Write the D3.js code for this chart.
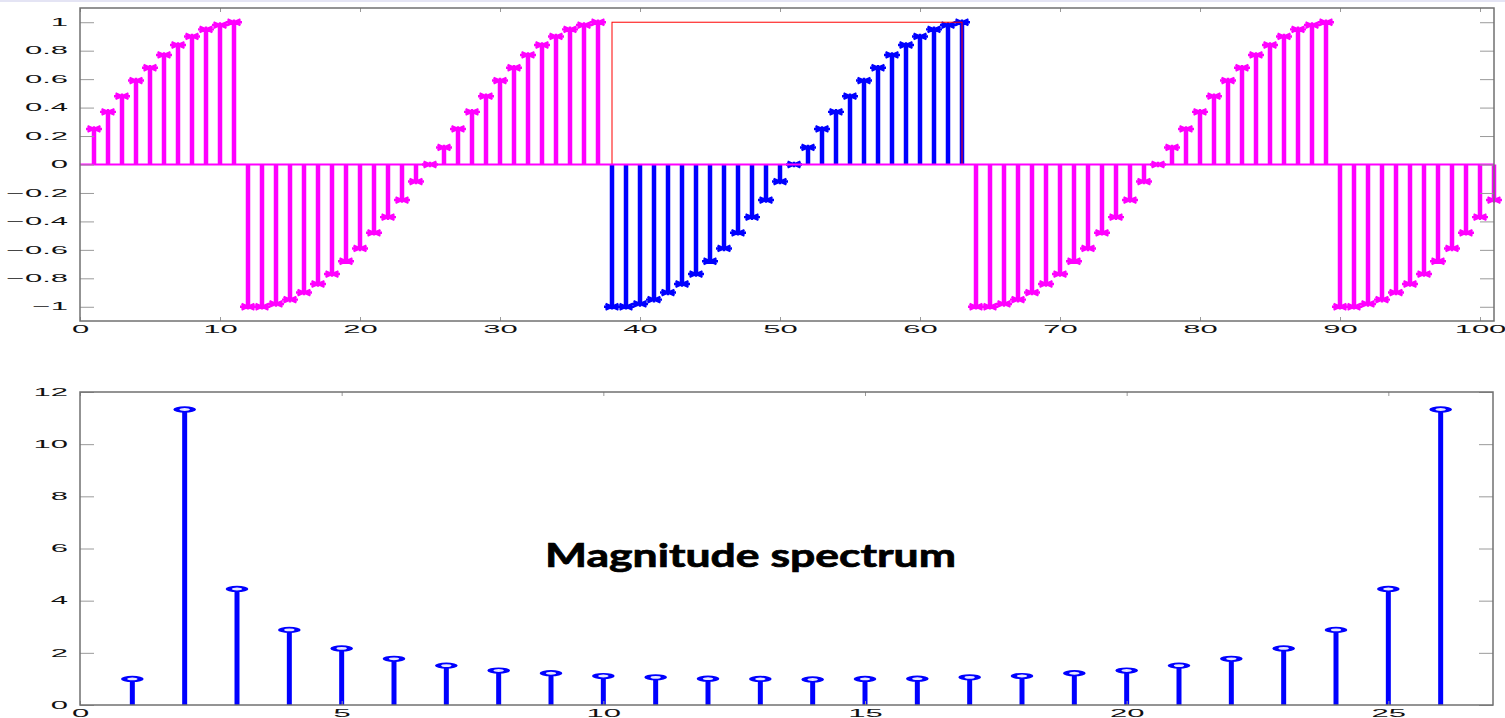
<!DOCTYPE html>
<html>
<head>
<meta charset="utf-8">
<script src="https://cdn.jsdelivr.net/npm/d3@7"></script>
<style>
  body { margin: 0; background: #fff; }
  svg { display: block; }
</style>
</head>
<body>
<div id="main"></div>
<script>
//signal samples, n = 1..101
const signalValues = [
  0.25, 0.37, 0.48, 0.59, 0.68, 0.77, 0.84, 0.90, 0.95, 0.98, 1.00,
  -1.00, -1.00, -0.98, -0.95, -0.90, -0.84, -0.77, -0.68, -0.59, -0.48, -0.37, -0.25, -0.12,
  0.00, 0.12, 0.25, 0.37, 0.48, 0.59, 0.68, 0.77, 0.84, 0.90, 0.95, 0.98, 1.00,
  -1.00, -1.00, -0.98, -0.95, -0.90, -0.84, -0.77, -0.68, -0.59, -0.48, -0.37, -0.25, -0.12,
  0.00, 0.12, 0.25, 0.37, 0.48, 0.59, 0.68, 0.77, 0.84, 0.90, 0.95, 0.98, 1.00,
  -1.00, -1.00, -0.98, -0.95, -0.90, -0.84, -0.77, -0.68, -0.59, -0.48, -0.37, -0.25, -0.12,
  0.00, 0.12, 0.25, 0.37, 0.48, 0.59, 0.68, 0.77, 0.84, 0.90, 0.95, 0.98, 1.00,
  -1.00, -1.00, -0.98, -0.95, -0.90, -0.84, -0.77, -0.68, -0.59, -0.48, -0.37, -0.25
];
//one period highlighted in blue (and boxed in red)
const periodStart = 38;
const periodEnd = 63;

//magnitude spectrum, k = 1..26
const spectrumValues = [
  1.00, 11.33, 4.45, 2.88, 2.17, 1.77, 1.51, 1.32, 1.22, 1.11, 1.06, 1.01, 1.00,
  0.98, 1.00, 1.01, 1.06, 1.11, 1.22, 1.32, 1.51, 1.77, 2.17, 2.88, 4.45, 11.33
];

//tick values
const topXTicks = [0, 10, 20, 30, 40, 50, 60, 70, 80, 90, 100];
const topYTicks = [-1, -0.8, -0.6, -0.4, -0.2, 0, 0.2, 0.4, 0.6, 0.8, 1];
const bottomXTicks = [0, 5, 10, 15, 20, 25];
const bottomYTicks = [0, 2, 4, 6, 8, 10, 12];

const spectrumTitle = "Magnitude spectrum";

const width = 1505;
const height = 718;
const pink = "#ff00ff";
const blue = "#0000ff";
const labelStretch = 3.1;

const svg = d3.select('#main')
  .append('svg')
  .attr('width', width)
  .attr('height', height);

svg.append('rect').attr('x', 0).attr('y', 0).attr('width', width).attr('height', 2).attr('fill', '#e4e4f4');

//box with ticks on all four sides, labels left and bottom
function drawFrame(g, x, y, xTicks, yTicks, yFormat){
  var x0 = x.range()[0], x1 = x.range()[1];
  var y0 = y.range()[0], y1 = y.range()[1];

  var left = g.append('g').attr('transform', "translate(" + x0 + ",0)")
    .call(d3.axisLeft(y).tickValues(yTicks).tickSize(-14).tickSizeOuter(0).tickFormat(yFormat));
  var right = g.append('g').attr('transform', "translate(" + x1 + ",0)")
    .call(d3.axisRight(y).tickValues(yTicks).tickSize(-14).tickSizeOuter(0).tickFormat(''));
  var top = g.append('g').attr('transform', "translate(0," + y1 + ")")
    .call(d3.axisTop(x).tickValues(xTicks).tickSize(-4).tickSizeOuter(0).tickFormat(''));
  var bottom = g.append('g').attr('transform', "translate(0," + y0 + ")")
    .call(d3.axisBottom(x).tickValues(xTicks).tickSize(-4).tickSizeOuter(0).tickFormat(d3.format('d')));

  [left, right, top, bottom].forEach(function(a){
    a.select('.domain').remove();
    a.selectAll('line').attr('stroke', '#9a9a9a');
    a.attr('font-family', '"Liberation Sans", Arial, sans-serif').attr('font-size', 10);
  });

  //labels are drawn wide, as in the picture
  left.selectAll('text').attr('x', -12 / labelStretch).attr('fill', '#111')
    .attr('transform', "scale(" + labelStretch + ",1)");
  bottom.selectAll('text').attr('y', 5).attr('fill', '#111')
    .attr('transform', "scale(" + labelStretch + ",1)");

  g.append('rect')
    .attr('x', x0).attr('y', y1)
    .attr('width', x1 - x0).attr('height', y0 - y1)
    .attr('fill', 'none').attr('stroke', '#707070').attr('stroke-width', 1.5);
}

//---------------- top: signal ----------------
var xTop = d3.scaleLinear().domain([0, 101]).range([80, 1494]);
var yTop = d3.scaleLinear().domain([-1.1, 1.1]).range([321, 8]);

var topData = signalValues.map(function(v, i){ return {n: i + 1, v: v}; });
function stemColor(d){ return (d.n >= periodStart && d.n <= periodEnd) ? blue : pink; }

var topG = svg.append('g');

topG.append('g').selectAll('line').data(topData)
  .enter().append('line')
  .attr('x1', function(d){ return xTop(d.n); })
  .attr('x2', function(d){ return xTop(d.n); })
  .attr('y1', yTop(0))
  .attr('y2', function(d){ return yTop(d.v); })
  .attr('stroke', stemColor)
  .attr('stroke-width', 4.5);

//asterisk markers, squashed like the original
var star = "M-8,0L8,0M-6.5,-2.8L6.5,2.8M-6.5,2.8L6.5,-2.8M0,-2.8L0,2.8";
topG.append('g').selectAll('path').data(topData)
  .enter().append('path')
  .attr('d', star)
  .attr('transform', function(d){ return "translate(" + xTop(d.n) + "," + yTop(d.v) + ")"; })
  .attr('fill', 'none')
  .attr('stroke', stemColor)
  .attr('stroke-width', 2.4);

//red box around the highlighted period
topG.append('rect')
  .attr('x', xTop(periodStart)).attr('y', yTop(1))
  .attr('width', xTop(periodEnd) - xTop(periodStart))
  .attr('height', yTop(0) - yTop(1))
  .attr('fill', 'none').attr('stroke', '#ff0000').attr('stroke-width', 1);

//baseline
topG.append('line')
  .attr('x1', xTop(0)).attr('x2', xTop(101))
  .attr('y1', yTop(0)).attr('y2', yTop(0))
  .attr('stroke', pink).attr('stroke-width', 2);

drawFrame(topG, xTop, yTop, topXTicks, topYTicks, function(d){ return d3.format('')(+d.toFixed(1)); });

//---------------- bottom: spectrum ----------------
var xBot = d3.scaleLinear().domain([0, 27]).range([80, 1493]);
var yBot = d3.scaleLinear().domain([0, 12]).range([705, 392]);

var botData = spectrumValues.map(function(v, i){ return {k: i + 1, v: v}; });
var botG = svg.append('g');

botG.append('g').selectAll('line').data(botData)
  .enter().append('line')
  .attr('x1', function(d){ return xBot(d.k); })
  .attr('x2', function(d){ return xBot(d.k); })
  .attr('y1', yBot(0))
  .attr('y2', function(d){ return yBot(d.v); })
  .attr('stroke', blue)
  .attr('stroke-width', 5);

//circle markers stretched sideways
botG.append('g').selectAll('circle').data(botData)
  .enter().append('circle')
  .attr('transform', function(d){ return "translate(" + xBot(d.k) + "," + yBot(d.v) + ") scale(3.6,1)"; })
  .attr('r', 2.3)
  .attr('fill', '#e8e8ff')
  .attr('stroke', blue)
  .attr('stroke-width', 1.7);

drawFrame(botG, xBot, yBot, bottomXTicks, bottomYTicks, d3.format('d'));

svg.append('text')
  .attr('x', 545).attr('y', 567)
  .attr('font-family', 'Lato, "Open Sans", sans-serif')
  .attr('font-weight', 'bold')
  .attr('font-size', 32)
  .attr('textLength', 411)
  .attr('lengthAdjust', 'spacingAndGlyphs')
  .attr('fill', '#000')
  .attr('stroke', '#000')
  .attr('stroke-width', 0.7)
  .text(spectrumTitle);
</script>
</body>
</html>
